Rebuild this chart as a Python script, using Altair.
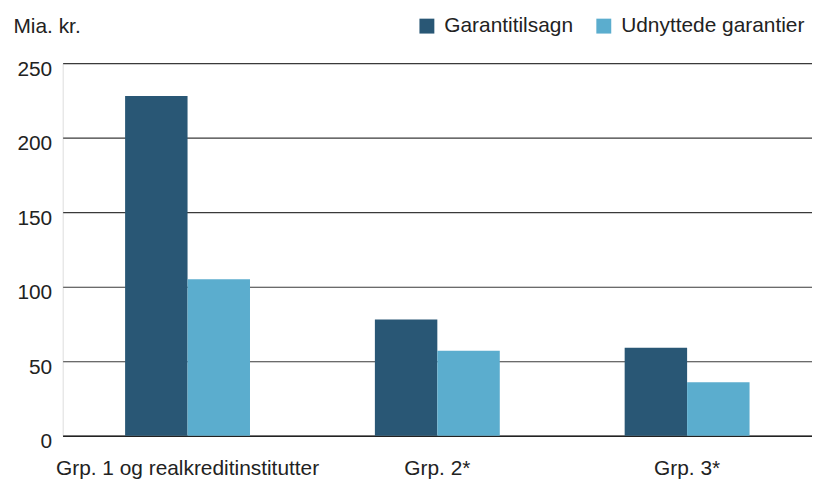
import altair as alt
import pandas as pd

categories = ["Grp. 1 og realkreditinstitutter", "Grp. 2*", "Grp. 3*"]
series_names = ["Garantitilsagn", "Udnyttede garantier"]
garantitilsagn = [228, 78, 59]
udnyttede = [105, 57, 36]
colors = ["#295775", "#5badce"]
y_ticks = [0, 50, 100, 150, 200, 250]

rows = []
for c, a, b in zip(categories, garantitilsagn, udnyttede):
    rows.append({"Gruppe": c, "Serie": series_names[0], "Værdi": a})
    rows.append({"Gruppe": c, "Serie": series_names[1], "Værdi": b})
df = pd.DataFrame(rows)

FONT = "Liberation Sans"

chart = alt.Chart(df).mark_bar().encode(
    x=alt.X("Gruppe:N", sort=categories,
            scale=alt.Scale(paddingInner=0, paddingOuter=0),
            axis=alt.Axis(title=None, labelAngle=0, ticks=False, domain=True,
                          domainColor="#222222", domainWidth=1.5,
                          labelFont=FONT, labelFontSize=21, labelColor="#222222",
                          labelPadding=22, labelLimit=400)),
    xOffset=alt.XOffset("Serie:N", sort=series_names,
                        scale=alt.Scale(paddingInner=0, paddingOuter=1)),
    y=alt.Y("Værdi:Q", scale=alt.Scale(domain=[0, 250], nice=False),
            axis=alt.Axis(values=y_ticks, title="Mia. kr.", titleAngle=0,
                          titleX=-50, titleY=-37, titleAlign="left",
                          titleBaseline="middle", titleFont=FONT,
                          titleFontSize=21, titleFontWeight="normal",
                          titleColor="#222222",
                          ticks=False, domain=False, grid=True,
                          gridColor="#3a3a3a", gridWidth=1.2,
                          labelFont=FONT, labelFontSize=21, labelColor="#222222",
                          labelPadding=11, labelBaseline="middle", labelOffset=6)),
    color=alt.Color("Serie:N", sort=series_names,
                    scale=alt.Scale(domain=series_names, range=colors),
                    legend=alt.Legend(title=None, orient="none", direction="horizontal",
                                      legendX=356, legendY=-48, symbolType="square",
                                      symbolSize=225, symbolStrokeWidth=0,
                                      labelFont=FONT, labelFontSize=21,
                                      labelColor="#222222", labelOffset=7,
                                      columnPadding=20, padding=0, labelLimit=300)),
).properties(
    width=754, height=375,
    autosize=alt.AutoSizeParams(type="none"),
    padding={"left": 55, "top": 54, "right": 0, "bottom": 46},
).configure_view(stroke=None).configure(background="white")

chart.save("out.html", embed_options={"renderer": "svg", "actions": False})
